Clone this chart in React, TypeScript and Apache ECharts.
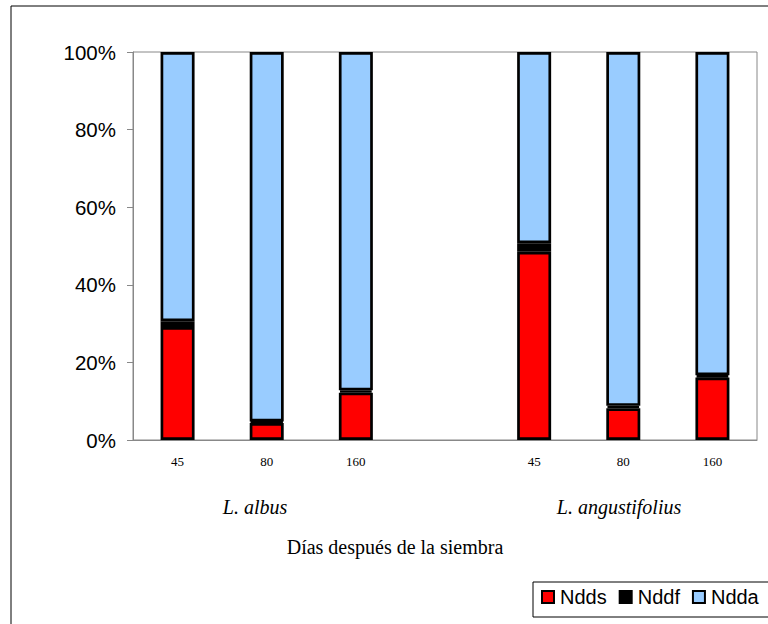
import React, { useEffect, useRef } from "react";
import * as echarts from "echarts";

const categories = ["45", "80", "160", "", "45", "80", "160"];
const groupLabels = ["L. albus", "L. angustifolius"];
const nddsValues = [29.1, 4.4, 12.2, null, 48.5, 8.2, 16.1];
const nddfValues = [1.5, 0.4, 0.6, null, 2.2, 0.6, 0.6];
const nddaValues = [69.4, 95.2, 87.2, null, 49.3, 91.2, 83.3];
const yTicks = [0, 20, 40, 60, 80, 100];
const seriesNames = ["Ndds", "Nddf", "Ndda"];
const seriesColors = ["#FF0000", "#000000", "#99CCFF"];

export default function App() {
  const ref = useRef<HTMLDivElement>(null);
  useEffect(() => {
    if (!ref.current) return;
    const chart = echarts.init(ref.current, null, { renderer: "svg" });
    const values = [nddsValues, nddfValues, nddaValues];
    const sans = "'Liberation Sans', Arial, sans-serif";
    const serif = "'Liberation Serif', 'Times New Roman', serif";
    chart.setOption({
      animation: false,
      backgroundColor: "#fff",
      grid: {
        left: 133,
        top: 52,
        width: 624,
        height: 388,
        show: true,
        borderColor: "#888",
        borderWidth: 1,
        containLabel: false,
      },
      legend: {
        left: 533,
        top: 582,
        padding: [5, 8],
        itemWidth: 12,
        itemHeight: 12,
        itemGap: 12,
        icon: "rect",
        data: seriesNames,
        textStyle: { fontFamily: sans, fontSize: 20, color: "#000", padding: [0, 0, 0, 1] },
        itemStyle: { borderColor: "#000", borderWidth: 2 },
      },
      xAxis: {
        type: "category",
        data: categories,
        axisLine: { show: true, lineStyle: { color: "#888", width: 1 } },
        axisTick: { show: false },
        axisLabel: { fontFamily: serif, fontSize: 13, color: "#000", margin: 15, interval: 0 },
        splitLine: { show: false },
      },
      yAxis: {
        type: "value",
        min: yTicks[0],
        max: yTicks[yTicks.length - 1],
        interval: 20,
        axisLine: { show: true, lineStyle: { color: "#888", width: 1 } },
        axisTick: { show: true, inside: false, length: 6, lineStyle: { color: "#888" } },
        axisLabel: {
          fontFamily: sans,
          fontSize: 20.5,
          color: "#000",
          margin: 17,
          formatter: (v: number) => v + "%",
        },
        splitLine: { show: false },
      },
      series: seriesNames.map((name, i) => ({
        name,
        type: "bar",
        stack: "total",
        barWidth: 34,
        data: values[i],
        itemStyle: { color: seriesColors[i], borderColor: "#000", borderWidth: 2.7 },
      })),
      graphic: [
        {
          type: "rect",
          shape: { x: 11, y: 6, width: 800, height: 700 },
          style: { fill: "none", stroke: "#000", lineWidth: 1 },
          silent: true,
          z: -10,
        },
        {
          type: "rect",
          shape: { x: 533, y: 582, width: 300, height: 35 },
          style: { fill: "none", stroke: "#000", lineWidth: 1 },
          silent: true,
        },
        {
          type: "text",
          x: 255,
          y: 507,
          style: {
            text: groupLabels[0],
            font: "italic 20px 'Liberation Serif', 'Times New Roman', serif",
            fill: "#000",
            align: "center",
            verticalAlign: "middle",
          },
        },
        {
          type: "text",
          x: 619,
          y: 507,
          style: {
            text: groupLabels[1],
            font: "italic 20px 'Liberation Serif', 'Times New Roman', serif",
            fill: "#000",
            align: "center",
            verticalAlign: "middle",
          },
        },
        {
          type: "text",
          x: 395,
          y: 547,
          style: {
            text: "Días después de la siembra",
            font: "20px 'Liberation Serif', 'Times New Roman', serif",
            fill: "#000",
            align: "center",
            verticalAlign: "middle",
          },
        },
      ],
    });
    return () => chart.dispose();
  }, []);
  return (
    <div
      ref={ref}
      style={{ position: "fixed", left: 0, top: 0, width: 768, height: 624 }}
    />
  );
}
